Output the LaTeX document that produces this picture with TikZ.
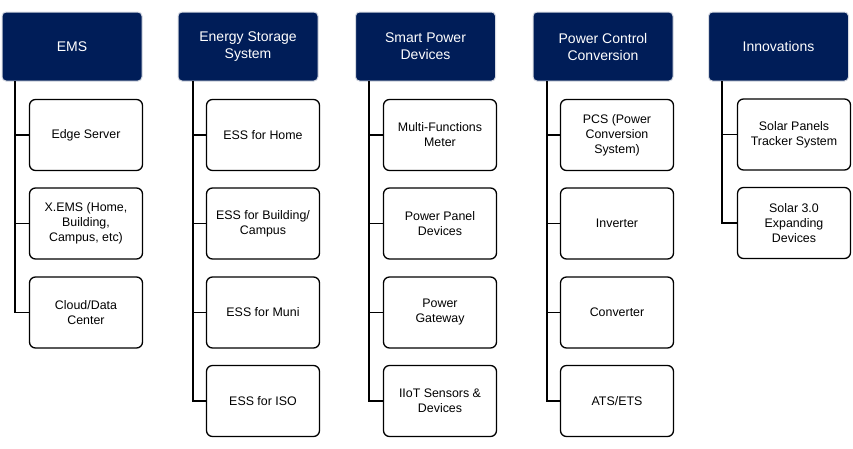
\documentclass[tikz,border=0pt]{standalone}
\usepackage{fontspec}
\setmainfont{Liberation Sans}
\usetikzlibrary{positioning}
\definecolor{navy}{RGB}{0,29,88}
\definecolor{hdrline}{RGB}{214,218,226}

\tikzset{
  hdr/.style={draw=hdrline, line width=1pt, fill=navy, text=white, rounded corners=4pt,
    minimum width=140pt, minimum height=69pt, align=center, font=\fontsize{14}{17}\selectfont},
  item/.style={draw, line width=1.3pt, rounded corners=6pt, fill=white,
    minimum width=113pt, minimum height=71pt, align=center, font=\fontsize{12.4}{15}\selectfont},
  link/.style={line width=1.3pt}
}

\begin{document}
\begin{tikzpicture}[x=1pt,y=-1pt]
    \useasboundingbox (0,0) rectangle (853,448);

    \node[hdr] (ems) at (72,46.5) {EMS} ;
    \node[hdr] (ess) at (248,46.5) {Energy Storage\\System} ;
    \node[hdr] (spd) at (425.5,46.5) {Smart Power\\Devices} ;
    \node[hdr] (pcc) at (603,46.5) {Power Control\\Conversion} ;
    \node[hdr] (inn) at (778.5,46.5) {Innovations} ;

    \coordinate (t1) at (15,81) ;
    \coordinate (t2) at (193,81) ;
    \coordinate (t3) at (369,81) ;
    \coordinate (t4) at (547,81) ;
    \coordinate (t5) at (722,81) ;

    % EMS
    \node[item] (ems1) at (86,135) {Edge Server} ;
    \node[item] (ems2) at (86,223.5) {X.EMS (Home,\\Building,\\Campus, etc)} ;
    \node[item] (ems3) at (86,312.5) {Cloud/Data\\Center} ;

    % storage
    \node[item] (ess1) at (263,135) {ESS for Home} ;
    \node[item] (ess2) at (263,223.5) {ESS for Building/\\Campus} ;
    \node[item] (ess3) at (263,312.5) {ESS for Muni} ;
    \node[item] (ess4) at (263,401) {ESS for ISO} ;

    % smart power
    \node[item] (spd1) at (440,135) {Multi-Functions\\Meter} ;
    \node[item] (spd2) at (440,223.5) {Power Panel\\Devices} ;
    \node[item] (spd3) at (440,312.5) {Power\\Gateway} ;
    \node[item] (spd4) at (440,401) {IIoT Sensors \&\\Devices} ;

    % power control
    \node[item] (pcc1) at (617,135) {PCS (Power\\Conversion\\System)} ;
    \node[item] (pcc2) at (617,223.5) {Inverter} ;
    \node[item] (pcc3) at (617,312.5) {Converter} ;
    \node[item] (pcc4) at (617,401) {ATS/ETS} ;

    % innovations
    \node[item] (inn1) at (794,134.5) {Solar Panels\\Tracker System} ;
    \node[item] (inn2) at (794,223) {Solar 3.0\\Expanding\\Devices} ;

    \draw[link] (t1) |- (ems1) ;
    \draw[link] (t1) |- (ems2) ;
    \draw[link] (t1) |- (ems3) ;
    \draw[link] (t2) |- (ess1) ;
    \draw[link] (t2) |- (ess2) ;
    \draw[link] (t2) |- (ess3) ;
    \draw[link] (t2) |- (ess4) ;
    \draw[link] (t3) |- (spd1) ;
    \draw[link] (t3) |- (spd2) ;
    \draw[link] (t3) |- (spd3) ;
    \draw[link] (t3) |- (spd4) ;
    \draw[link] (t4) |- (pcc1) ;
    \draw[link] (t4) |- (pcc2) ;
    \draw[link] (t4) |- (pcc3) ;
    \draw[link] (t4) |- (pcc4) ;
    \draw[link] (t5) |- (inn1) ;
    \draw[link] (t5) |- (inn2) ;
\end{tikzpicture}
\end{document}
